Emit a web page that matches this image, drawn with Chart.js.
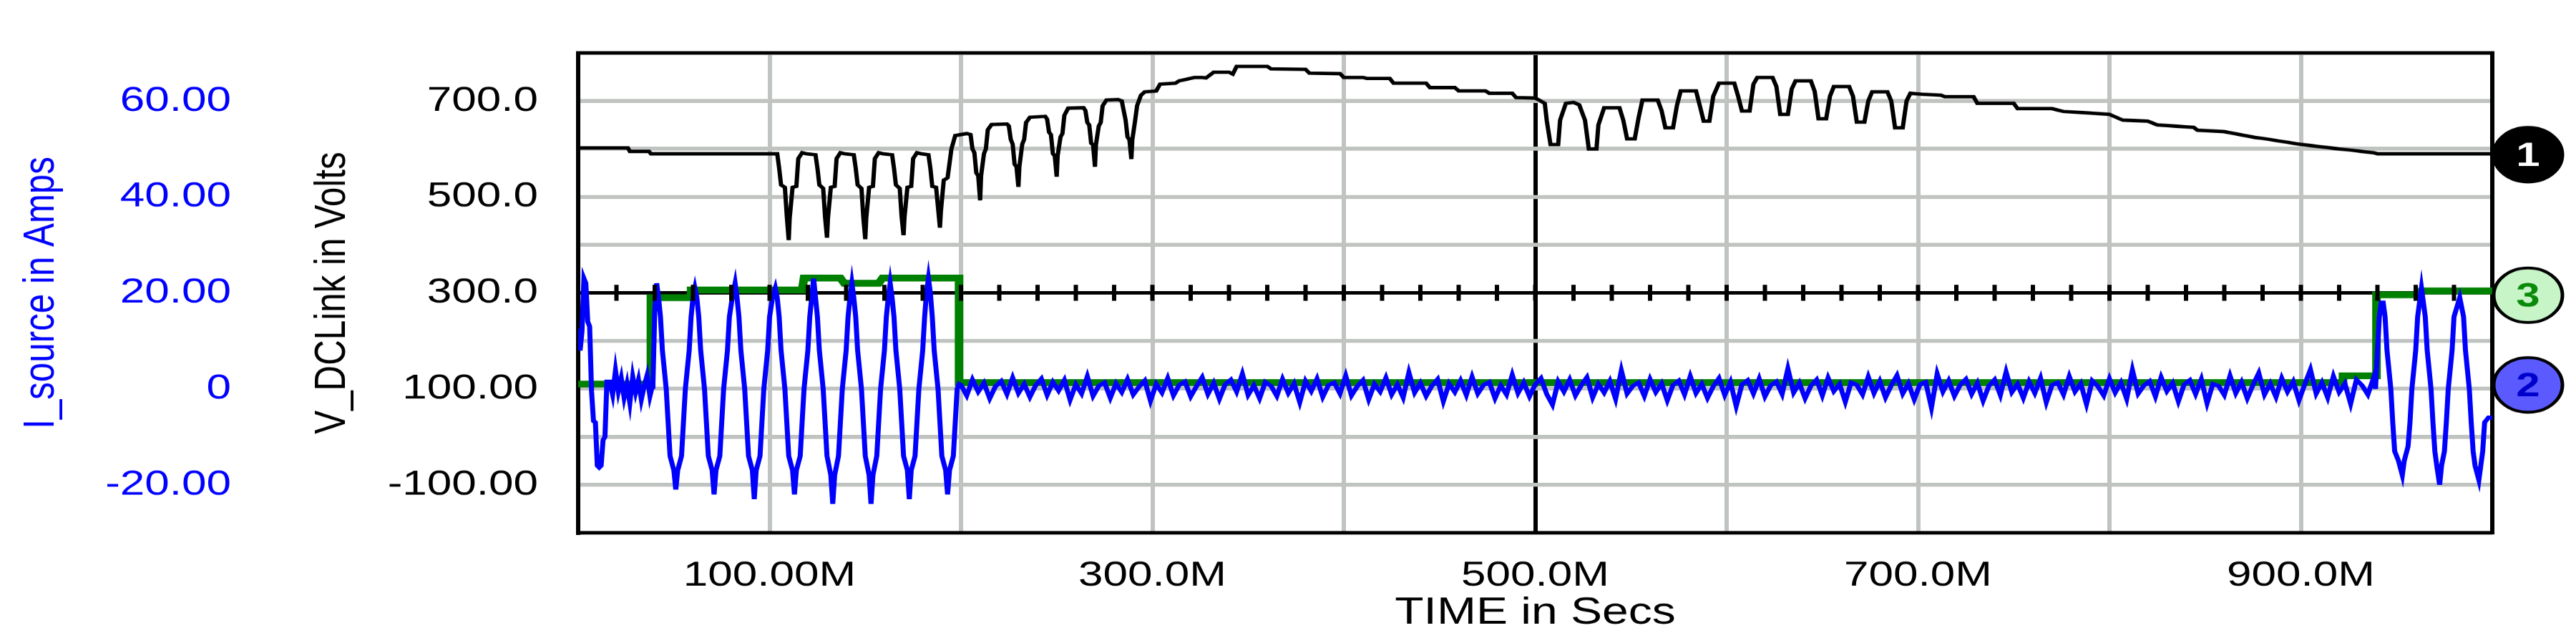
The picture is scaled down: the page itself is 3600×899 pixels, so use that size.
<!DOCTYPE html>
<html><head><meta charset="utf-8">
<script src="https://cdn.jsdelivr.net/npm/chart.js@4.4.1/dist/chart.umd.min.js"></script>
<style>
html,body{margin:0;padding:0;background:#fff;overflow:hidden;width:3600px;height:899px}
#wrap{width:3600px;height:1131px;transform:scaleY(0.7949);transform-origin:0 0}
</style></head><body>
<div id="wrap"><canvas id="c"></canvas></div>
<script>
// ---- data (time in M, V_DCLink in Volts, I_source in Amps) ----
const xTickLabels = {100:"100.00M",300:"300.0M",500:"500.0M",700:"700.0M",900:"900.0M"};
const vTickLabels = {700:"700.0",500:"500.0",300:"300.0",100:"100.00","-100":"-100.00"};
const iTickLabels = {60:"60.00",40:"40.00",20:"20.00",0:"0","-20":"-20.00"};

const vDCLink = [[0,602],[26,602],[27,595],[37,595],[38,590],[100,590],
[104,590],[105,560],[106,525],[108,520],[109,460],[110,410],[110.5,456],[112,520],[114,522],[115,580],[117,592],[119,590],
[124,588],[125,560],[126,525],[128,518],[129,458],[130,415],[130.5,456],[132,520],[134,522],[135,580],[137,592],[139,590],
[144,588],[145,560],[146,525],[148,518],[149,456],[150,412],[150.5,456],[152,520],[154,522],[155,580],[157,592],[159,590],
[164,588],[165,560],[166,525],[168,518],[169,458],[170,420],[170.5,458],[172,520],[174,522],[175,580],[177,592],[179,590],
[183,588],[184,560],[185,522],[187,520],[188,478],[189,436],[189.5,470],[191,535],[193,540],[195,600],[197,628],[203,632],
[205,630],[206,600],[207,592],[208,550],[209,544],[210,493],[210.5,544],[212,590],[213,600],[214,640],[216,651],[224,652],
[225,648],[226,620],[227,610],[228,568],[229,563],[230,521],[230.5,563],[232,610],[233,620],[234,655],[236,666],[244,668],
[245,662],[246,635],[247,630],[248,590],[249,586],[250,542],[250.5,586],[252,625],[253,632],[254,670],[256,685],[264,686],
[265,680],[266,655],[267,650],[268,612],[269,609],[270,563],[270.5,609],[272,648],[273,655],[274,690],[276,702],[282,703],
[284,700],[285,680],[286,660],[287,625],[288,619],[289,579],[289.5,619],[291,660],[292,690],[294,712],[296,719],[302,721],
[304,735],[312,737],[314,742],[322,749],[326,749],[328,748],[332,760],[340,760],[342,756],[344,772],[360,772],[362,767],[380,766],[382,758],[398,757],[400,749],[410,749],[412,747],[424,747],[426,737],[443,737],[445,728],[458,728],[460,721],[474,721],[476,716],[488,716],[490,707],[500,706],
[502,702],[505,695],[506,660],[508,609],[512,609],[513,660],[516,695],[520,697],[523,692],[526,660],[528,600],[532,600],[533,650],[536,686],[544,686],[546,660],[548,621],[552,621],[554,665],[556,702],[564,702],[566,680],[568,644],[572,644],[574,690],[576,721],[584,721],[586,690],[588,658],[591,658],[593,710],[596,737],[604,737],[606,710],[608,679],[612,679],[614,735],[616,749],[624,749],[626,730],[628,672],[632,672],[634,725],[636,742],[644,742],[646,720],[648,663],[652,663],[654,710],[656,730],[664,730],[666,710],[668,656],[672,656],[674,700],[676,719],[684,719],[686,700],[688,644],[692,644],[694,700],[696,716],[702,714],
[712,712],[714,709],[729,709],[731,695],[750,695],[752,684],[770,684],[776,678],[790,675],[800,672],[807,660],[820,658],[825,650],[844,645],[846,639],[860,636],[876,624],[880,622],[896,612],[899,610],[920,600],[925,598],[938,592],[940,590],[1000,590]];

const iSourceStart = [[0,12.5],[1,8],[2,12],[3,23],[4,22],[5,14],[6,13],[7,-0.6],[8,-6.7],[9,-7],[10,-16],[11,-16.4],[12,-16],[13,-10.7],[14,-10],[15,1.5]];
const noiseA = [1.5,-1.2,3.8,-0.5,2.2,-1.8,1.0,-2.9,2.5,-0.7,1.8,-2.2,0.6,2.8,-1.5,1.0];
const iSourceCycles = [[39,0],[39.5,8],[40,16],[40.5,19],[41,22],[42,19],[43,15],[44,8],[46,0],[47,-7],[48,-14],[50,-17],[51,-21],[52,-17],[54,-14],[55,-7],[56,0],[58,8],[59,15],[60,19],
[61,21],[62,19],[63,15],[64,8],[66,0],[67,-7],[68,-14],[70,-17],[71,-22],[72,-17],[74,-14],[75,-7],[76,0],[78,8],[79,15],[80.5,19],
[82,22],[83,19],[84,15],[85,8],[87,0],[88,-7],[89,-14],[91,-17],[92,-23],[93,-17],[95,-14],[96,-7],[97,0],[99,8],[100,15],[101.5,19],
[103,21],[104,19],[105,15],[106,8],[108,0],[109,-7],[110,-14],[112,-17],[113,-22],[114,-17],[116,-14],[117,-7],[118,0],[120,8],[121,15],[122,19],
[123,23],[124,19],[125,15],[126,8],[128,0],[129,-7],[130,-14],[132,-18],[133,-24],[134,-18],[136,-14],[137,-7],[138,0],[140,8],[141,15],[142,19],
[143,22],[144,19],[145,15],[146,8],[148,0],[149,-7],[150,-14],[152,-18],[153,-24],[154,-18],[156,-14],[157,-7],[158,0],[160,8],[161,15],[162,19],
[163,22],[164,19],[165,15],[166,8],[168,0],[169,-7],[170,-14],[172,-17],[173,-23],[174,-17],[176,-14],[177,-7],[178,0],[180,8],[181,15],[182,20],
[183,23],[184,20],[185,15],[186,8],[188,0],[189,-7],[190,-14],[192,-17],[193,-22],[194,-17],[196,-14],[197,-7],[198,0],[199,1]];
const noiseB = [0.8,-1.4,1.9,-0.6,1.2,-2.0,0.5,1.6,-1.1,2.3,-0.9,1.0,-1.7,0.7,2.1,-1.3,1.4,-0.4,1.8,-2.3,
0.9,-1.0,2.6,-1.5,0.6,1.3,-1.9,1.1,-0.7,2.0,-1.2,0.4,1.7,-2.5,1.0,-0.8,2.2,-1.4,0.8,1.5,
-1.6,0.5,2.4,-1.1,1.2,-2.1,0.9,1.9,-0.6,3.1,-1.3,0.7,-2.0,1.4,0.6,-1.5,2.0,-0.9,1.1,-2.8,
1.6,-0.5,2.1,-1.7,0.8,1.3,-1.0,2.7,-1.4,0.5,1.8,-2.2,1.0,-0.6,2.3,-1.2,0.9,-1.8,3.4,-0.8,
1.2,-1.5,0.6,2.0,-2.6,1.1,-0.7,1.7,-1.3,2.5,-1.0,0.8,1.4,-2.0,0.7,-1.2,2.9,-0.9,1.3,-1.6,
0.9,2.2,-1.1,-3.3,1.5,-0.6,1.9,-1.4,0.7,2.4,-1.8,1.0,-0.8,1.6,-2.1,3.8,-1.0,0.6,1.3,-1.5,
2.0,-0.7,1.1,-2.4,0.8,1.7,-1.2,2.6,-0.9,1.0,-1.9,0.5,2.2,-1.3,1.4,-3.6,0.9,1.8,-1.0,2.1,
-1.6,0.7,1.5,-1.1,4.2,-0.8,1.2,-2.0,0.6,1.9,-1.4,2.3,-0.5,1.0,-2.7,1.3,0.8,-1.2,2.5,-0.9,
1.6,-1.8,0.7,2.8,-1.0,1.1,-2.2,0.9,1.4,-3.9,3.1,-0.6,1.7,-1.5,0.8,2.0,-1.1,1.2,-2.5,0.6,
1.9,-1.3,3.5,-0.7,1.0,-1.9,1.5,-0.9,2.2,-2.8,0.8,1.3,-1.2,2.6,-0.6,1.1,-3.2,1.7,0.5,-1.4,
2.1,-0.8,1.3,-2.1,3.9,-1.0,0.7,1.6,-1.6,2.4,-0.5,1.2,-2.6,0.9,1.8,-1.1,2.0,-3.0,1.0,0.6,
-1.3,2.7,-0.9,1.4,-2.0,0.8,3.3,-1.2,1.1,-1.7,
2.2,-0.6,1.5,-2.4,0.9,4.0,-1.0,1.3,-1.8,2.6,-0.7,1.1,-3.1,1.9,0.7,-1.2,2.3];
const iSourceEnd = [[939,0],[940,8],[941,15],[942,18],[943,18],[944,15],[945,8],[947,0],[948,-7],[949,-13],[951,-15],[953,-18],[954,-15],[956,-12],[957,-7],[958,0],[960,8],[961,15],[962,18],[963,21],[964,18],[965,15],[966,8],[968,0],[969,-7],[970,-13],[971,-16],[972.5,-20],[973.5,-16],[975,-13],[976,-7],[977,0],[979,8],[980,15],[981.5,17],[983,19],[984,17],[985,15],[986,8],[988,0],[989,-7],[990,-13],[991,-16],[993,-19],[994,-16],[995,-13],[996,-7],[998,-6],[1000,-6]];

const green3 = [[0,1],[38,1],[38,19],[58.7,19],[59,20.6],[117,20.6],[118,23.1],[137,23.1],[139,22],[157,22],[159,23.1],[199,23.1],[199,1.3],[922,1.3],[922,2.7],[939.5,2.7],[939.5,19.6],[962,19.6],[963,20.4],[1000,20.4]];
const axisTickTimes = [20,40,60,80,100,120,140,160,180,200,220,240,260,280,300,320,340,360,380,400,420,440,460,480,500,520,540,560,580,600,620,640,660,680,700,720,740,760,780,800,820,840,860,880,900,920,940,960,980];
const markerNames = ["1","3","2"];
const markerX = [1018.7,1018.7,1018.7];
const markerY = [588,295,108];
const markerFill = ['#000000','#c8f5c8','#5a5aff'];
const markerTextColor = ['#ffffff','#0a8a0a','#0000cc'];

// ---- build ----
const toXY = a => a.map(p => ({x:p[0], y:p[1]}));
let blue = toXY(iSourceStart);
noiseA.forEach((v,i)=>blue.push({x:16.5+1.5*i,y:v}));
blue = blue.concat(toXY(iSourceCycles));
noiseB.forEach((v,i)=>{const t=200+3*i; if(t<939) blue.push({x:t,y:v});});
blue = blue.concat(toXY(iSourceEnd));

const FONT = "'Liberation Sans', Arial, sans-serif";
const GRID = '#c0c4c0';

const markerSets = markerNames.map((n,i)=>({type:'scatter', markerIndex:i, order:0, data:[{x:markerX[i],y:markerY[i]}], yAxisID:'yV', clip:false,
  pointStyle:'circle', pointRadius:48, backgroundColor:markerFill[i], borderColor:'#000', borderWidth:5}));

const markerText = {
  id:'markerText',
  afterDatasetsDraw(chart){
    const ctx = chart.ctx;
    chart.data.datasets.forEach((ds,di)=>{
      if(ds.markerIndex===undefined) return;
      const el = chart.getDatasetMeta(di).data[0];
      ctx.save();
      ctx.font = "bold 60px " + FONT;
      ctx.fillStyle = markerTextColor[ds.markerIndex];
      ctx.textAlign='center'; ctx.textBaseline='middle';
      ctx.fillText(markerNames[ds.markerIndex], el.x, el.y+3);
      ctx.restore();
    });
  }
};

new Chart(document.getElementById('c'), {
  data:{datasets:[
    {type:'line', label:'3', order:4, data:green3, yAxisID:'yI', borderColor:'#008000', borderWidth:12, pointRadius:0, tension:0},
    {type:'line', label:'I_source', order:3, data:blue, yAxisID:'yI', borderColor:'#0000ff', borderWidth:7, pointRadius:0, tension:0},
    {type:'line', label:'V_DCLink', order:2, data:toXY(vDCLink), yAxisID:'yV', borderColor:'#000000', borderWidth:6, pointRadius:0, tension:0},
    {type:'scatter', order:1, data:axisTickTimes.map(t=>({x:t,y:300})), yAxisID:'yV', pointStyle:'line', rotation:90, pointRadius:14, borderColor:'#000', borderWidth:6}
  ].concat(markerSets)},
  options:{
    responsive:true, maintainAspectRatio:false, animation:false,
    layout:{padding:{top:38,right:117,left:0,bottom:0}},
    plugins:{legend:{display:false}, tooltip:{enabled:false}},
    scales:{
      x:{type:'linear', position:'bottom', min:0, max:1000,
        afterBuildTicks(s){s.ticks=[0,100,200,300,400,500,600,700,800,900,1000].map(v=>({value:v}));},
        afterFit(s){s.height=194;},
        ticks:{padding:39, maxRotation:0, autoSkip:false, color:'#000', font:{family:FONT,size:62}, callback:v=>xTickLabels[v]||''},
        grid:{drawTicks:false, lineWidth:6, color:c=>c.tick && c.tick.value===500 ? '#000' : GRID},
        border:{display:true,color:'#000',width:6},
        title:{display:true,text:'TIME in Secs',color:'#000',font:{family:FONT,size:66},padding:{top:0,bottom:13}}},
      xTop:{type:'linear', position:'top', min:0, max:1000, afterFit(s){s.height=0;},
        ticks:{display:false}, grid:{display:false}, border:{display:true,color:'#000',width:6}},
      yRight:{type:'linear', position:'right', min:-200, max:800, afterFit(s){s.width=0;},
        ticks:{display:false}, grid:{display:false}, border:{display:true,color:'#000',width:6}},
      yV:{type:'linear', position:'left', min:-200, max:800,
        afterBuildTicks(s){s.ticks=[-200,-100,0,100,200,300,400,500,600,700,800].map(v=>({value:v}));},
        afterFit(s){s.width=438;},
        ticks:{padding:56, color:'#000', font:{family:FONT,size:62}, callback:v=>vTickLabels[v]||''},
        grid:{drawTicks:false, lineWidth:c=>c.tick && c.tick.value===300 ? 6 : 7, color:c=>c.tick && c.tick.value===300 ? '#000' : GRID},
        border:{display:true,color:'#000',width:6},
        title:{display:true,text:'V_DCLink in Volts',color:'#000',font:{family:FONT,size:62},padding:{top:58,bottom:0}}},
      yI:{type:'linear', position:'left', min:-30, max:70,
        afterBuildTicks(s){s.ticks=[-20,0,20,40,60].map(v=>({value:v}));},
        afterFit(s){s.width=370;},
        ticks:{padding:39, color:'#0000ff', font:{family:FONT,size:62}, callback:v=>iTickLabels[v]},
        grid:{display:false}, border:{display:false},
        title:{display:true,text:'I_source in Amps',color:'#0000ff',font:{family:FONT,size:62},padding:{top:21,bottom:0}}}
    }
  },
  plugins:[markerText]
});
</script></body></html>
